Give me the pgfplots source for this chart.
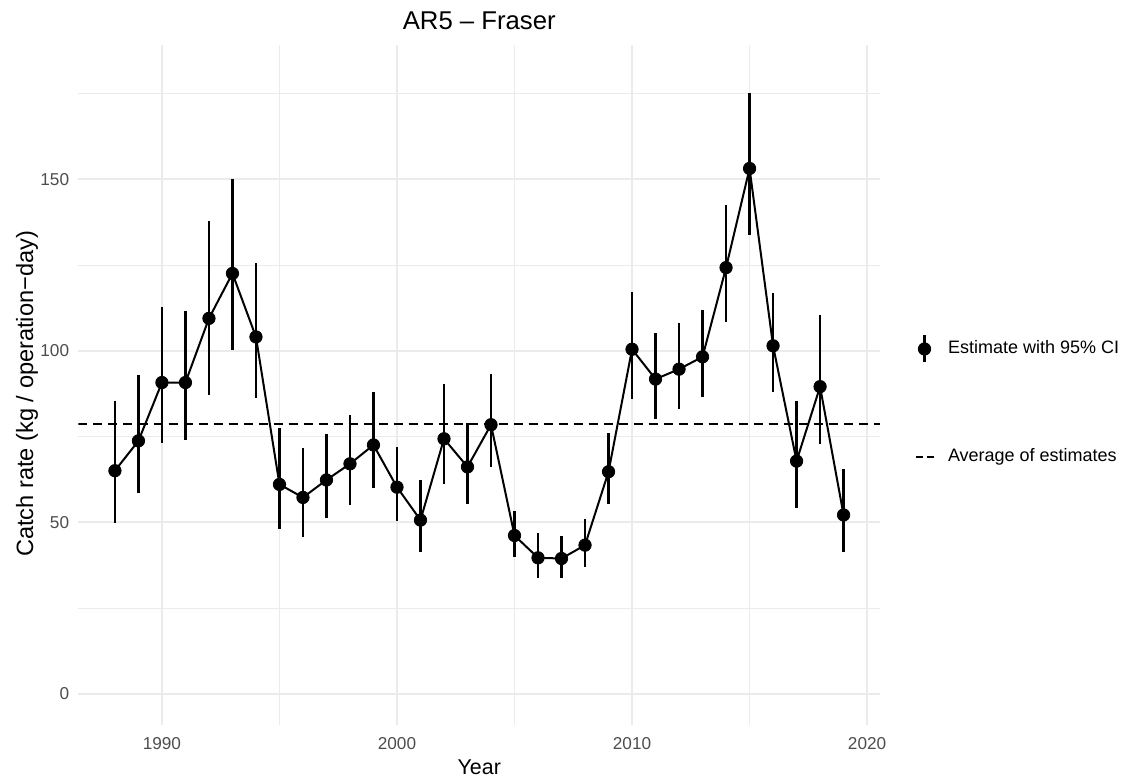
\documentclass[border=0pt]{standalone}
\usepackage{fontspec}
\setmainfont{Liberation Sans}
\usepackage{pgfplots}
\pgfplotsset{compat=1.18}
\usepackage{pgfplotstable}
\definecolor{gridc}{HTML}{EBEBEB}
\definecolor{tickc}{HTML}{4D4D4D}

\pgfplotstableread{
year est lo hi
1988 65.1 49.8 85.5
1989 73.8 58.5 93.0
1990 90.8 73.1 112.9
1991 90.8 74.0 111.7
1992 109.5 87.1 137.9
1993 122.6 100.3 150.0
1994 104.1 86.2 125.7
1995 61.1 48.2 77.5
1996 57.3 45.9 71.8
1997 62.4 51.2 75.8
1998 67.1 55.1 81.3
1999 72.6 60.1 88.0
2000 60.3 50.5 71.9
2001 50.7 41.3 62.4
2002 74.4 61.2 90.3
2003 66.2 55.4 78.9
2004 78.5 66.1 93.3
2005 46.2 40.0 53.4
2006 39.7 33.7 46.8
2007 39.5 33.9 46.1
2008 43.4 36.9 51.0
2009 64.8 55.4 76.0
2010 100.5 86.0 117.2
2011 91.8 80.2 105.3
2012 94.7 83.0 108.3
2013 98.3 86.5 112.0
2014 124.3 108.4 142.6
2015 153.2 133.8 175.1
2016 101.5 88.0 116.8
2017 67.9 54.1 85.4
2018 89.6 72.8 110.6
2019 52.2 41.5 65.5
}\datatable

\begin{document}
\begin{tikzpicture}
\begin{axis}[
  at={(0,0)}, anchor=south west,
  width=400.75pt, height=340pt, scale only axis,
  xmin=1986.45, xmax=2020.55, ymin=-9.04, ymax=189.2,
  xtick={1990,2000,2010,2020}, xticklabels={1990,2000,2010,2020},
  minor xtick={1995,2005,2015},
  ytick={0,50,100,150}, yticklabels={0,50,100,150},
  minor ytick={25,75,125,175},
  grid=both,
  major grid style={gridc, line width=1pt},
  minor grid style={gridc, line width=0.55pt},
  axis line style={draw=none},
  major tick length=0pt, minor tick length=0pt,
  tick style={draw=none},
  x tick label style={font=\fontsize{8.6}{10}\selectfont, text=tickc, inner sep=0pt, anchor=north, yshift=-5.85pt},
  y tick label style={font=\fontsize{8.6}{10}\selectfont, text=tickc, inner sep=0pt, anchor=east, xshift=-4.5pt},
  title={AR5 – Fraser},
  title style={at={(0.5,1)}, anchor=base, yshift=2pt, font=\fontsize{12.85}{15}\selectfont, inner sep=0pt},
  xlabel={Year},
  ylabel={Catch rate (kg / operation−day)},
  every axis x label/.style={at={(axis description cs:0.5,-0.07206)}, anchor=base, inner sep=0pt, font=\fontsize{10.7}{13}\selectfont},
  every axis y label/.style={at={(axis description cs:-0.05677,0.487)}, rotate=90, anchor=base, inner sep=0pt, font=\fontsize{11.8}{14}\selectfont},
  legend style={at={(axis description cs:1.0343,0.4787)}, anchor=west, draw=none, fill=none,
    inner sep=0pt, outer sep=0pt, row sep=42.5pt, column sep=3.25pt,
    nodes={inner sep=0pt}, font=\fontsize{9}{10.5}\selectfont},
  legend cell align=left,
]
\addplot[black, line width=1pt, forget plot] table[x=year, y=est]{\datatable};

\addplot[black, only marks, mark=*, mark size=3.1pt,
  legend image code/.code={
    \path[draw=none, fill=none] (0pt,0) -- (17pt,0);
    \draw[black, line width=1.2pt, solid] (8.5pt,-6.75pt) -- (8.5pt,6.75pt);
    \fill[black] (8.5pt,0) circle (3.1pt);},
  error bars/.cd, y dir=both, y explicit, error mark=none,
  error bar style={line width=1.2pt, black}]
  table[x=year, y=est, y error plus expr=\thisrow{hi}-\thisrow{est}, y error minus expr=\thisrow{est}-\thisrow{lo}]{\datatable};
\addlegendentry{Estimate with 95\% CI}

\addplot[black, line width=1pt, dash pattern=on 4.5pt off 3pt,
  legend image code/.code={
    \path[draw=none, fill=none] (0pt,0) -- (17pt,0);
    \draw[black, line width=1pt, dash pattern=on 3.5pt off 2pt] (4pt,0) -- (13pt,0);}]
  coordinates {(1986.45,78.59) (2020.55,78.59)};
\addlegendentry{Average of estimates}
\end{axis}
\pgfresetboundingbox
\path[use as bounding box] (-39.25pt,-26.5pt) rectangle (528.25pt,362.5pt);
\end{tikzpicture}
\end{document}
